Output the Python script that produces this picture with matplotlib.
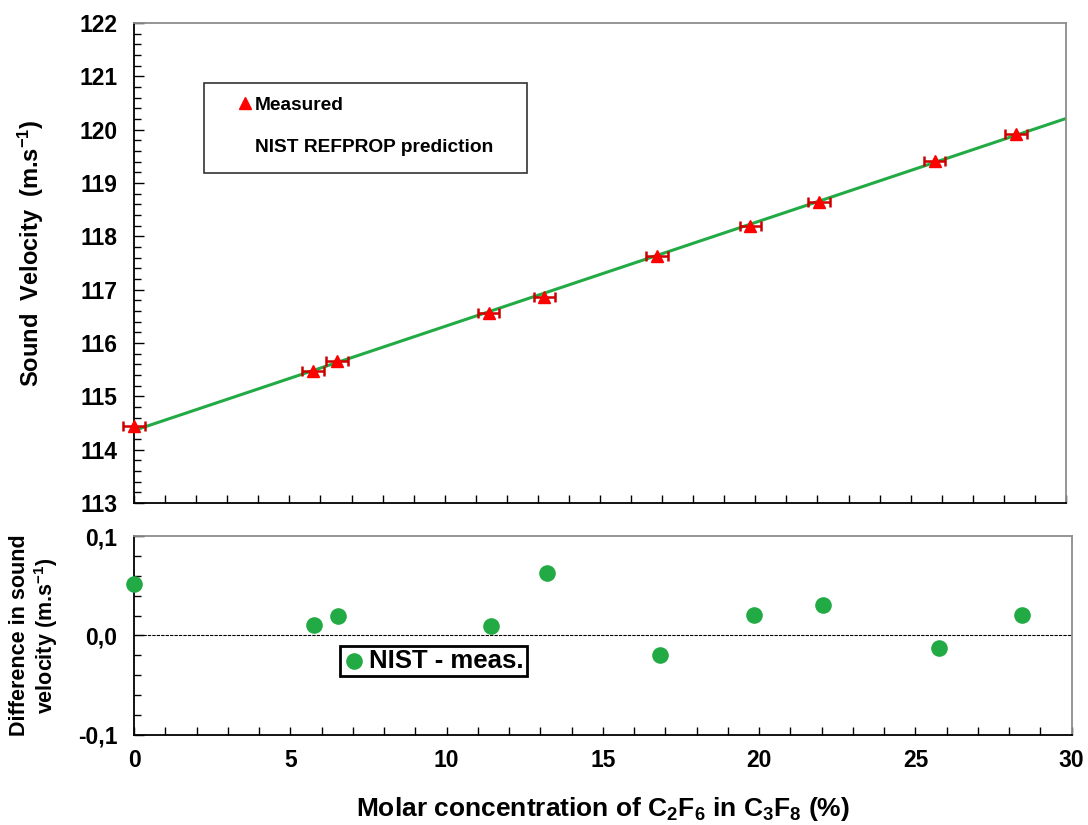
import matplotlib
matplotlib.use("Agg")
import matplotlib.pyplot as plt
from matplotlib.lines import Line2D
from matplotlib.patches import Rectangle
from matplotlib.ticker import MultipleLocator, FuncFormatter

plt.rcParams['font.family'] = ['Liberation Sans', 'DejaVu Sans']
plt.rcParams['font.weight'] = 'bold'
plt.rcParams['mathtext.fontset'] = 'custom'
plt.rcParams['mathtext.rm'] = 'Liberation Sans:bold'
plt.rcParams['mathtext.bf'] = 'Liberation Sans:bold'
plt.rcParams['mathtext.default'] = 'bf'

# data
conc = [0.0, 5.77, 6.54, 11.41, 13.21, 16.83, 19.84, 22.05, 25.77, 28.40]
measured = [114.44, 115.48, 115.67, 116.57, 116.86, 117.64, 118.19, 118.64, 119.42, 119.91]
conc_err = [0.35] * 10
nist_x = [0.0, 30.0]
nist_v = [114.36, 120.21]
diff = [0.052, 0.011, 0.020, 0.010, 0.063, -0.020, 0.021, 0.031, -0.013, 0.021]

red = '#FF0000'
dark_red = '#CC0000'
green = '#22AA44'
grey = '#8C8C8C'

fig = plt.figure(figsize=(10.88, 8.25), dpi=100)
ax1 = fig.add_axes([0.1232, 0.3903, 0.8566, 0.5818])
ax2 = fig.add_axes([0.1232, 0.1091, 0.8618, 0.2412])

# top panel
ax1.plot(nist_x, nist_v, color=green, lw=2.2, zorder=2)
eb = ax1.errorbar(conc, measured, xerr=conc_err, fmt='^', color=red, ecolor=dark_red,
                  elinewidth=1.8, capsize=3.5, capthick=1.8, markersize=8, zorder=3)
for artist in eb.lines[0:1] + tuple(eb.lines[1]) + tuple(eb.lines[2]):
    artist.set_clip_on(False)
ax1.set_xlim(0, 30)
ax1.set_ylim(113, 122)
ax1.yaxis.set_major_locator(MultipleLocator(1))
ax1.yaxis.set_minor_locator(MultipleLocator(0.2))
ax1.xaxis.set_major_locator(MultipleLocator(1))
ax1.tick_params(axis='x', direction='in', length=6, width=1, labelbottom=False)
ax1.tick_params(axis='y', which='major', direction='in', length=7, width=1, labelsize=16.5, pad=12)
ax1.tick_params(axis='y', which='minor', direction='in', length=5, width=1)
ax1.set_ylabel('Sound  Velocity  (m.s$^{-1}$)', fontsize=17, fontweight='bold')
ax1.yaxis.set_label_coords(-0.095, 0.52)

# legend box of the top panel
ax1.add_patch(Rectangle((0.075, 0.6875), 0.347, 0.1875, transform=ax1.transAxes,
                        fill=False, edgecolor='#333333', lw=1.2, zorder=4))
handles = [Line2D([], [], marker='^', color=red, ls='none', markersize=8),
           Line2D([], [], color='none')]
leg1 = ax1.legend(handles, ['Measured', 'NIST REFPROP prediction'],
                  loc='center', bbox_to_anchor=(0.249, 0.785), frameon=False,
                  handlelength=0.6, handletextpad=0.2, borderpad=0,
                  labelspacing=1.3, prop={'weight': 'bold', 'size': 13.8})

# bottom panel
ax2.axhline(0, color='black', lw=0.8, ls=(0, (3, 1)), zorder=1)
ax2.scatter(conc, diff, s=120, color=green, zorder=3, label='NIST - meas.', clip_on=False)
ax2.set_xlim(0, 30)
ax2.set_ylim(-0.1, 0.1)
ax2.xaxis.set_major_locator(MultipleLocator(5))
ax2.xaxis.set_minor_locator(MultipleLocator(1))
ax2.yaxis.set_major_locator(MultipleLocator(0.1))
ax2.yaxis.set_minor_locator(MultipleLocator(0.02))
ax2.yaxis.set_major_formatter(FuncFormatter(lambda v, p: f'{v:.1f}'.replace('.', ',').replace('-0,0', '0,0')))
ax2.tick_params(axis='x', which='both', direction='in', length=6, width=1, labelsize=16.5, pad=10)
ax2.tick_params(axis='y', which='major', direction='in', length=7, width=1, labelsize=16.5, pad=12)
ax2.tick_params(axis='y', which='minor', direction='in', length=5, width=1)
ax2.set_ylabel('Difference in sound\nvelocity (m.s$^{-1}$)', fontsize=15.5, fontweight='bold',
               linespacing=1.1)
ax2.yaxis.set_label_coords(-0.079, 0.5)
ax2.set_xlabel('Molar concentration of C$_2$F$_6$ in C$_3$F$_8$ (%)', fontsize=19,
               fontweight='bold', labelpad=17)
leg2 = ax2.legend(loc='upper left', bbox_to_anchor=(0.22, 0.447), fancybox=False,
                  edgecolor='black', framealpha=1, handletextpad=0.2, borderpad=0.12,
                  markerscale=1.0, prop={'weight': 'bold', 'size': 18.5}, borderaxespad=0,
                  handlelength=0.8)
leg2.get_frame().set_linewidth(2)

for ax in (ax1, ax2):
    ax.spines['left'].set_color('black')
    ax.spines['bottom'].set_color('black')
    ax.spines['top'].set_color(grey)
    ax.spines['right'].set_color(grey)
    for s in ax.spines.values():
        s.set_linewidth(1.3)

fig.savefig('out.png', dpi=100)
